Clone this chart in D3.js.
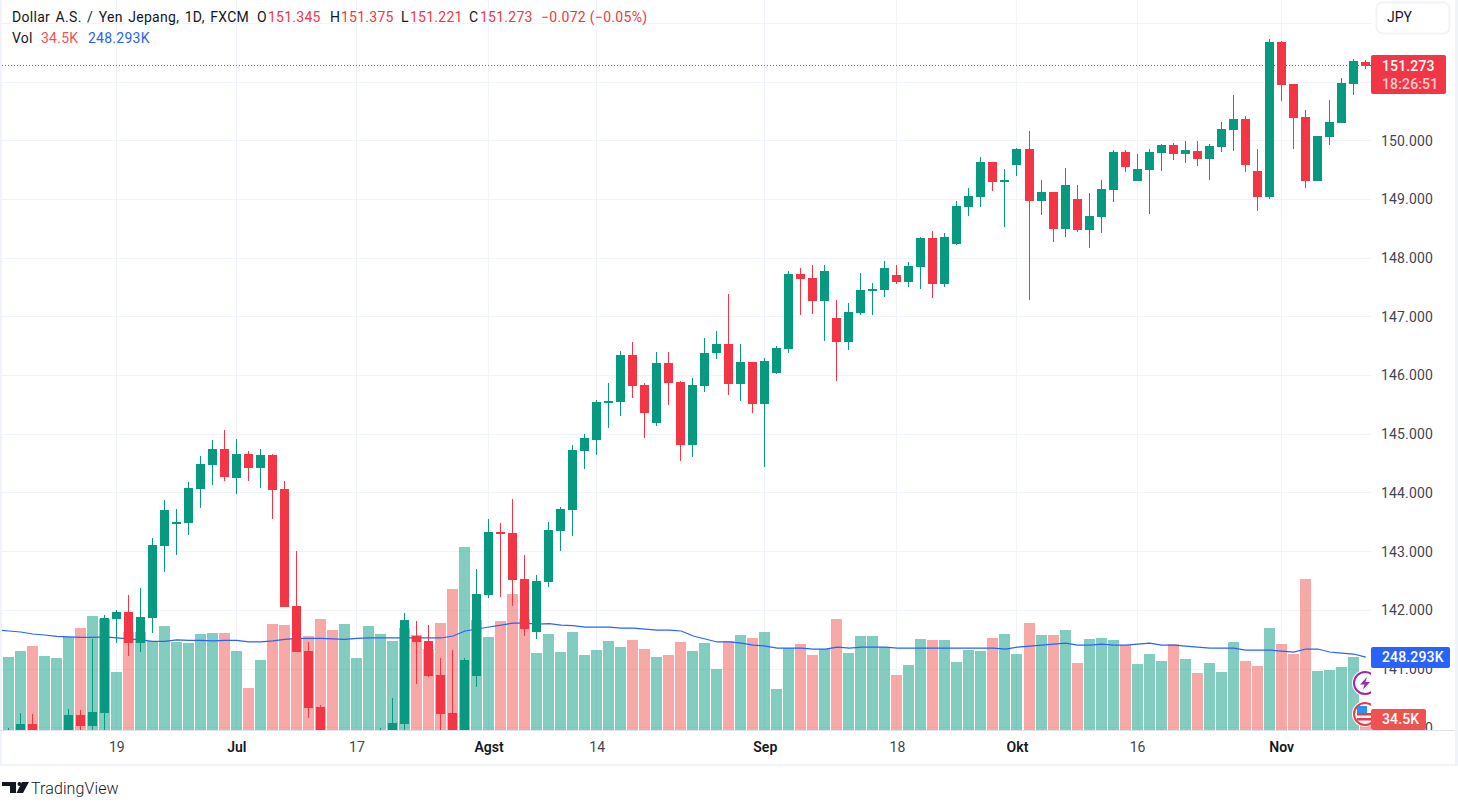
<!DOCTYPE html>
<html><head><meta charset="utf-8">
<script src="https://cdn.jsdelivr.net/npm/d3@7/dist/d3.min.js"></script>
<style>
html,body{margin:0;padding:0;background:#fff;overflow:hidden}
svg{display:block}
text{font-family:Roboto,"Open Sans",sans-serif}
</style></head><body><div id="c"></div>
<script>
const opens=[139.4,139.7,140.064,139.3,139.2,139.8,140.217,140.03,140.251,141.852,
141.972,141.444,141.869,143.096,143.471,143.488,144.067,144.476,144.748,144.254,
144.663,144.425,144.646,144.067,142.074,141.307,140.353,139.6,139.3,139.4,
139.5,139.6,139.8,140.064,141.563,141.478,140.898,140.251,139.6,140.881,
142.261,143.334,143.317,142.534,141.631,142.483,143.351,143.709,144.714,144.902,
145.532,145.549,146.350,145.839,145.191,146.213,145.890,144.816,145.822,146.384,
146.537,145.856,146.230,145.515,146.043,146.452,147.729,147.661,147.269,146.980,
146.571,147.065,147.440,147.457,147.712,147.593,147.848,148.342,147.559,148.240,
148.870,149.041,149.637,149.296,149.586,149.859,148.973,149.126,148.496,149.007,
148.479,148.700,149.160,149.808,149.313,149.501,149.791,149.927,149.774,149.825,
149.688,149.893,150.182,150.370,149.484,149.041,151.682,150.966,150.404,149.313,
150.063,150.302,150.966,151.345];
const closes=[139.8,140.064,139.75,139.6,139.5,140.217,140.03,140.268,141.869,141.972,
141.444,141.886,143.113,143.709,143.505,144.084,144.493,144.748,144.272,144.663,
144.425,144.646,144.050,142.057,141.290,140.336,139.7,139.4,139.6,139.7,
139.8,139.9,140.081,141.835,141.461,140.881,140.234,139.7,141.154,142.278,
143.334,143.300,142.517,141.682,142.500,143.368,143.726,144.731,144.936,145.549,
145.566,146.350,145.822,145.362,146.213,145.873,144.816,145.839,146.384,146.537,
145.856,146.230,145.515,146.247,146.469,147.729,147.644,147.269,147.780,146.571,
147.082,147.457,147.474,147.831,147.593,147.865,148.342,147.559,148.359,148.888,
149.058,149.637,149.296,149.330,149.859,148.973,149.126,148.496,149.245,148.479,
148.717,149.177,149.808,149.552,149.518,149.808,149.927,149.774,149.842,149.688,
149.910,150.199,150.370,149.586,149.041,151.682,150.949,150.387,149.313,150.080,
150.319,150.983,151.358,151.273];
const highs=[139.996,140.251,140.234,139.8,139.7,140.319,140.302,141.512,141.921,142.006,
142.261,142.380,143.232,143.879,143.726,144.186,144.629,144.902,145.072,144.919,
144.714,144.748,144.663,144.203,143.011,141.461,140.387,139.7,139.7,139.8,
139.9,139.996,140.507,141.955,141.818,141.750,141.188,141.324,141.188,142.704,
143.556,143.488,143.896,142.943,142.602,143.505,143.760,144.816,145.004,145.583,
145.873,146.418,146.571,145.873,146.401,146.401,145.907,145.958,146.639,146.758,
147.389,146.537,146.230,146.298,146.503,147.780,147.831,147.882,147.882,147.286,
147.235,147.746,147.576,147.951,147.882,147.934,148.359,148.462,148.428,148.973,
149.194,149.722,149.637,149.518,149.876,150.165,149.330,149.126,149.535,149.245,
149.109,149.330,149.842,149.842,149.774,149.859,149.944,149.961,149.995,149.995,
149.944,150.319,150.779,150.421,149.859,151.733,151.699,150.966,150.523,150.080,
150.693,151.068,151.392,151.375];
const lows=[139.2,139.5,139.6,139.0,139.0,139.6,139.7,139.8,139.7,141.444,
141.222,141.290,141.614,142.653,142.943,143.283,143.743,144.135,144.203,143.981,
144.203,144.084,143.556,142.057,141.290,140.166,139.5,139.2,139.1,139.2,
139.3,139.4,139.6,139.8,140.745,140.864,139.8,139.4,139.4,140.694,
142.210,142.227,142.074,141.563,141.512,142.397,143.011,143.266,144.408,144.646,
145.106,145.310,145.617,144.936,145.140,145.498,144.544,144.612,145.719,146.281,
145.668,145.566,145.362,144.442,146.026,146.384,147.031,147.048,146.588,145.907,
146.435,147.031,147.031,147.337,147.559,147.508,147.474,147.320,147.508,148.223,
148.717,148.870,149.143,148.530,149.399,147.286,148.734,148.274,148.359,148.445,
148.172,148.428,148.956,149.467,149.313,148.751,149.484,149.671,149.620,149.569,
149.330,149.808,149.825,149.467,148.802,149.007,150.676,149.859,149.194,149.313,
149.927,150.302,150.779,151.221];
const volumes=[248.5,268.9,285.9,251.9,245.1,316.6,347.2,388.1,377.8,197.4,
333.6,333.6,303,354,299.6,296.1,326.8,330.2,330.2,268.9,
143,238.3,360.8,357.4,313.2,320,377.8,340.4,360.8,245.1,
354,326.8,303,347.2,323.4,275.7,364.2,480,622.9,374.4,
316.6,371,462.9,377.8,262.1,326.8,265.5,333.6,255.3,272.3,
303,282.5,306.4,275.7,248.5,255.3,299.6,268.9,296.1,207.6,
303,323.4,313.2,333.6,139.6,279.1,292.7,255.3,275.7,377.8,
262.1,320,320,282.5,187.2,221.3,309.8,306.4,306.4,231.5,
272.3,268.9,313.2,326.8,258.7,364.2,323.4,323.4,340.4,228.1,
309.8,313.2,306.4,289.3,224.7,258.7,234.9,292.7,241.7,194,
228.1,197.4,299.6,234.9,217.9,347.2,292.7,258.7,514,200.8,
204.2,214.5,248.5,34.5];
// volume moving average, first value belongs to the bar just left of the visible window
const volumeMA=[340.4,337,333.6,326.8,323.4,318.3,316.6,314.9,314.9,316.6,313.2,
309.8,306.4,301.3,301.3,306.4,304.7,304.7,303,304.7,304.7,
299.6,299.6,303,308.1,311.5,311.5,311.5,309.8,308.1,311.5,
313.2,313.2,313.2,313.2,313.2,313.2,313.2,320,337,343.8,
350.6,357.4,364.2,364.2,360.8,361.8,357.4,355,350.6,350.6,
350.6,347.2,347.2,343.8,340.4,340.4,337,320,309.8,299.6,
299.6,296.1,289.3,285.9,279.1,279.1,279.1,275.7,275.7,282.5,
279.1,282.5,282.5,282.5,279.1,279.1,279.1,279.1,279.1,279.1,
279.1,279.1,279.1,275.7,282.5,285.9,289.3,292.7,296.1,289.3,
289.3,292.7,289.3,289.3,292.7,296.1,289.3,289.3,285.9,282.5,
279.1,279.1,279.1,272.3,272.3,272.3,268.9,265.5,275.7,275.7,
265.5,262.1,258.7,248.293];
const timeTickIndex=[9,19,29,40,49,63,74,84,94,106];
const timeTickLabels=["19","Jul","17","Agst","14","Sep","18","Okt","16","Nov"];
const monthLabels=["Jul","Agst","Sep","Okt","Nov"];
const priceGrid=[140,141,142,143,144,145,146,147,148,149,150,151,152];
const priceLabels=[140,141,142,143,144,145,146,147,148,149,150];
const lastPrice=151.273;

const GREEN="#089981",RED="#f23645",VOLRED="#ef5350",BLUE="#2962ff";
const W=1458,H=809,PL=2,PR=1371,PB=730;
const svg=d3.select("#c").append("svg").attr("width",W).attr("height",H);
const x=d3.scaleLinear().domain([0,113]).range([8.2,1365.27]);
const y=d3.scaleLinear().domain([152,141]).range([23.3,669]);
const v=d3.scaleLinear().domain([0,248.5]).range([PB,657]);
const px=i=>Math.floor(x(i));

svg.append("defs").append("clipPath").attr("id","pane").append("rect")
  .attr("x",PL).attr("y",0).attr("width",PR-PL).attr("height",PB);
svg.select("defs").append("clipPath").attr("id","axisclip").append("rect")
  .attr("x",PR).attr("y",0).attr("width",W-PR).attr("height",PB);

// frame
svg.append("rect").attr("x",0).attr("y",0).attr("width",2).attr("height",766).attr("fill","#f0f3fa");
svg.append("rect").attr("x",1455).attr("y",0).attr("width",3).attr("height",766).attr("fill","#f0f3fa");
svg.append("rect").attr("x",0).attr("y",764).attr("width",1458).attr("height",2).attr("fill","#f0f3fa");

const pane=svg.append("g").attr("clip-path","url(#pane)");
// grid
pane.append("g").selectAll("rect").data(priceGrid).join("rect")
  .attr("x",PL).attr("width",PR-PL).attr("y",d=>Math.floor(y(d))).attr("height",1).attr("fill","#f0f3fa");
pane.append("g").selectAll("rect").data(timeTickIndex).join("rect")
  .attr("x",i=>px(i)).attr("width",1).attr("y",0).attr("height",PB).attr("fill","#f0f3fa");

const idx=d3.range(volumes.length);
const up=i=>closes[i]>=opens[i];
// volume
pane.append("g").selectAll("rect").data(idx).join("rect")
  .attr("x",i=>px(i)-5).attr("width",11)
  .attr("y",i=>Math.round(v(volumes[i]))).attr("height",i=>PB-Math.round(v(volumes[i])))
  .attr("fill",i=>up(i)?GREEN:VOLRED).attr("fill-opacity",0.5);
// MA
pane.append("path").datum(volumeMA)
  .attr("fill","none").attr("stroke",BLUE).attr("stroke-width",1.25)
  .attr("d",d3.line().x((d,i)=>x(i-1)+0.5).y(d=>v(d)));
// candles
const cg=pane.append("g");
cg.selectAll("rect.w").data(idx).join("rect").attr("class","w")
  .attr("x",i=>px(i)).attr("width",1)
  .attr("y",i=>Math.round(y(highs[i])))
  .attr("height",i=>Math.max(1,Math.round(y(lows[i]))-Math.round(y(highs[i]))))
  .attr("fill",i=>up(i)?GREEN:RED);
cg.selectAll("rect.b").data(idx).join("rect").attr("class","b")
  .attr("x",i=>px(i)-4).attr("width",9)
  .attr("y",i=>Math.round(y(Math.max(opens[i],closes[i]))))
  .attr("height",i=>Math.max(1,Math.round(y(Math.min(opens[i],closes[i])))-Math.round(y(Math.max(opens[i],closes[i])))))
  .attr("fill",i=>up(i)?GREEN:RED);
// last price line
pane.append("line").attr("x1",PL).attr("x2",PR).attr("y1",Math.floor(y(lastPrice))+0.5).attr("y2",Math.floor(y(lastPrice))+0.5)
  .attr("stroke",RED).attr("stroke-width",1).attr("stroke-dasharray","1 2");

// indicator icons, clipped at pane edge
const ic=pane.append("g");
const i1=ic.append("g").attr("transform","translate(1365,683)");
i1.append("circle").attr("r",13).attr("fill","#fff");
i1.append("circle").attr("r",11).attr("fill","#fff").attr("stroke","#9c27b0").attr("stroke-width",2);
i1.append("path").attr("d","M2-6L-5 1.5H-.5L-2 6.5L5-1H.5Z").attr("fill","#9c27b0");
const i2=ic.append("g").attr("transform","translate(1365,714)");
i2.append("circle").attr("r",13).attr("fill","#fff");
i2.append("circle").attr("r",11).attr("fill","#fff").attr("stroke",RED).attr("stroke-width",2);
i2.append("rect").attr("x",-8).attr("y",-1).attr("width",16).attr("height",2.5).attr("fill",RED);
i2.append("rect").attr("x",-8).attr("y",4).attr("width",16).attr("height",2.5).attr("fill",RED);
i2.append("rect").attr("x",-8).attr("y",-8).attr("width",10).attr("height",7).attr("fill","#2196f3");

// axes
const fmtTime=i=>timeTickLabels[timeTickIndex.indexOf(i)];
const ax=svg.append("g").attr("transform",`translate(0,${PB})`)
  .call(d3.axisBottom(x).tickValues(timeTickIndex).tickFormat(fmtTime).tickSize(0).tickPadding(12));
ax.select(".domain").remove();
ax.selectAll("text").attr("font-size",14).attr("font-family","Roboto")
  .attr("fill",d=>monthLabels.includes(fmtTime(d))?"#131722":"#434651")
  .attr("font-weight",d=>monthLabels.includes(fmtTime(d))?600:400);
svg.append("rect").attr("x",0).attr("y",PB).attr("width",1455).attr("height",1).attr("fill","#e0e3eb");

const ay=svg.append("g").attr("clip-path","url(#axisclip)").append("g").attr("transform","translate(1381,0)")
  .call(d3.axisRight(y).tickValues(priceLabels).tickFormat(d3.format(".3f")).tickSize(0).tickPadding(0));
ay.select(".domain").remove();
ay.selectAll("text").attr("font-size",14).attr("fill","#434651").attr("letter-spacing","0.15");

// axis labels
function tag(x0,y0,w,h,fill,rows){
  const g=svg.append("g");
  g.append("rect").attr("x",x0).attr("y",y0).attr("width",w).attr("height",h).attr("rx",2).attr("fill",fill);
  rows.forEach(r=>g.append("text").attr("x",1382).attr("y",r.y).attr("font-size",14).attr("font-weight",r.w||400)
    .attr("letter-spacing","0.15").attr("dy","0.35em").attr("fill",r.c||"#fff").text(r.t));
}
tag(1371,55,75,39,RED,[{t:d3.format(".3f")(lastPrice),y:66,w:500},{t:"18:26:51",y:84,c:"rgba(255,255,255,.75)",w:500}]);
tag(1371,647,79,21,BLUE,[{t:"248.293K",y:657.5,w:500}]);
tag(1371,709,55,21,VOLRED,[{t:"34.5K",y:719.5,w:500}]);

// currency button
svg.append("rect").attr("x",1376.5).attr("y",2.5).attr("width",73).attr("height",31).attr("rx",6)
  .attr("fill","#fff").attr("stroke","#f0f3fa").attr("stroke-width",2);
svg.append("text").attr("x",1387).attr("y",17.5).attr("dy","0.35em").attr("font-size",14).attr("fill","#131722").text("JPY");

// legend
function t(xp,yp,s,c,ls,ws){svg.append("text").attr("x",xp).attr("y",yp).attr("dy","0.35em").attr("font-size",14)
  .attr("letter-spacing",ls||0.25).attr("word-spacing",ws||0).attr("fill",c).text(s);}
const DK="#131722";
t(12,17,"Dollar A.S. / Yen Jepang, 1D, FXCM",DK,0.3,1.7);
t(257,17,"O",DK);t(268,17,"151.345",RED);
t(330,17,"H",DK);t(341,17,"151.375",RED);
t(401,17,"L",DK);t(410,17,"151.221",RED);
t(469,17,"C",DK);t(480,17,"151.273",RED);
t(541,17,"\u22120.072 (\u22120.05%)",RED,0.3);
t(12,38,"Vol",DK);t(41,38,"34.5K",VOLRED);t(88,38,"248.293K",BLUE);

// logo
const lg=svg.append("g").attr("transform","translate(2,782)").attr("fill","#131722");
lg.append("path").attr("d","M0 0H14V11H8V4H0Z");
lg.append("circle").attr("cx",17.5).attr("cy",2).attr("r",2);
lg.append("path").attr("d","M20 0H27L21 11H14.5Z");
svg.append("text").attr("x",31).attr("y",788).attr("dy","0.35em").attr("font-size",16).attr("font-weight",300).attr("letter-spacing",0.1).attr("fill","#131722").text("TradingView");
</script></body></html>
